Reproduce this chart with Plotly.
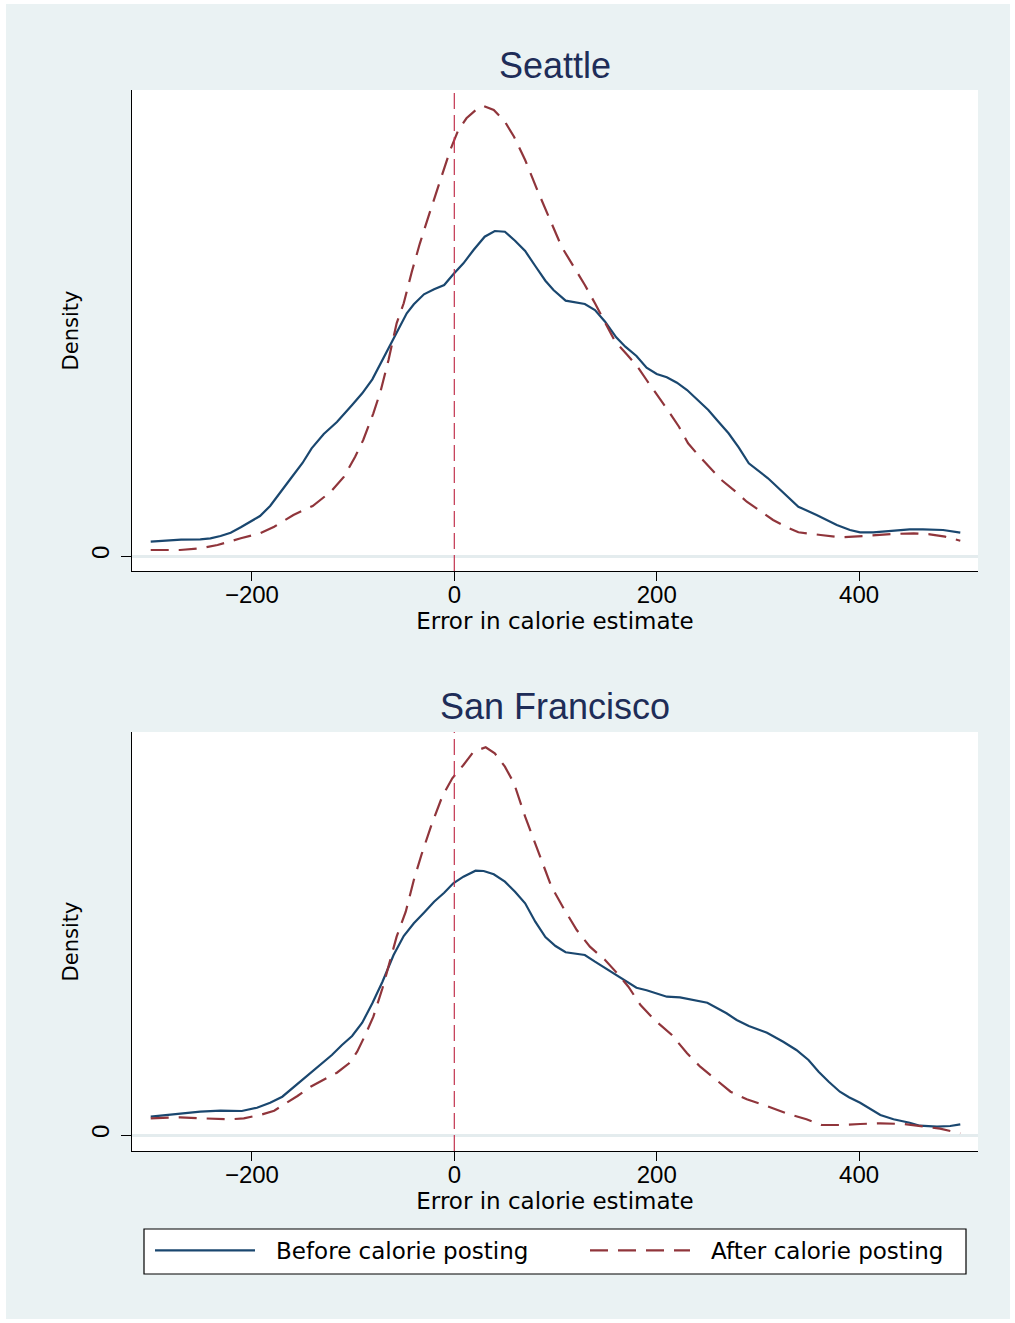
import plotly.graph_objects as go

# ---------------- data ----------------
# Seattle, before calorie posting
sea_before_x = [-300, -270, -251, -241, -231, -221, -211, -201, -192, -182, -172, -162, -150, -141,
                -129, -116, -101, -91, -81, -70, -57, -47, -40, -30, -20, -10, -1, 9, 19, 30, 40,
                50, 60, 70, 80, 90, 98, 110, 129, 139, 149, 160, 169, 180, 190, 200, 210, 220, 230,
                240, 251, 261, 271, 281, 291, 310, 325, 340, 358, 378, 391, 401, 414, 434, 450,
                463, 483, 500]
sea_before_y = [0.000143, 0.000163, 0.000167, 0.000177, 0.000200, 0.000233, 0.000287, 0.000343,
                0.000400, 0.000500, 0.000630, 0.000770, 0.000930, 0.001077, 0.001220, 0.001340,
                0.001510, 0.001627, 0.001767, 0.001977, 0.002227, 0.002427, 0.002517, 0.002617,
                0.002667, 0.002710, 0.002817, 0.002927, 0.003060, 0.003193, 0.003250, 0.003243,
                0.003153, 0.003050, 0.002900, 0.002753, 0.002660, 0.002553, 0.002520, 0.002460,
                0.002343, 0.002187, 0.002093, 0.002000, 0.001883, 0.001820, 0.001787, 0.001733,
                0.001660, 0.001567, 0.001460, 0.001343, 0.001227, 0.001087, 0.000927, 0.000777,
                0.000633, 0.000493, 0.000410, 0.000310, 0.000260, 0.000237, 0.000237, 0.000250,
                0.000267, 0.000267, 0.000260, 0.000233]

# Seattle, after calorie posting
sea_after_x = [-300, -271, -251, -234, -211, -192, -178, -159, -140, -122, -109, -98, -90, -80,
               -73, -65, -57, -50, -42, -34, -24, -14, -4, 4, 12, 22, 29, 39, 50, 59, 70, 82, 95,
               106, 118, 129, 139, 149, 159, 171, 181, 190, 202, 212, 222, 231, 241, 253, 264,
               278, 289, 302, 315, 329, 340, 362, 381, 394, 414, 434, 454, 470, 485, 500]
sea_after_y = [0.000060, 0.000060, 0.000077, 0.000110, 0.000177, 0.000227, 0.000293, 0.000410,
               0.000500, 0.000643, 0.000793, 0.000993, 0.001160, 0.001427, 0.001643, 0.001960,
               0.002327, 0.002527, 0.002843, 0.003127, 0.003443, 0.003760, 0.004060, 0.004260,
               0.004377, 0.004467, 0.004500, 0.004460, 0.004343, 0.004193, 0.003960, 0.003660,
               0.003360, 0.003093, 0.002893, 0.002710, 0.002527, 0.002327, 0.002143, 0.002010,
               0.001893, 0.001760, 0.001593, 0.001443, 0.001293, 0.001127, 0.001010, 0.000877,
               0.000760, 0.000643, 0.000543, 0.000453, 0.000360, 0.000287, 0.000237, 0.000210,
               0.000187, 0.000193, 0.000210, 0.000220, 0.000227, 0.000217, 0.000193, 0.000153]

# San Francisco, before calorie posting
sf_before_x = [-300, -271, -251, -231, -210, -195, -182, -170, -160, -150, -140, -131, -121, -111,
               -101, -91, -81, -71, -60, -50, -40, -30, -20, -10, -1, 9, 21, 29, 39, 50, 60, 70,
               80, 90, 100, 110, 129, 139, 151, 164, 180, 190, 210, 223, 250, 269, 279, 291, 309,
               325, 338, 350, 360, 370, 381, 390, 401, 421, 434, 450, 460, 477, 490, 500]
sf_before_y = [0.000183, 0.000210, 0.000233, 0.000243, 0.000240, 0.000273, 0.000323, 0.000383,
               0.000467, 0.000557, 0.000640, 0.000717, 0.000800, 0.000900, 0.000990, 0.001123,
               0.001317, 0.001533, 0.001800, 0.001990, 0.002117, 0.002223, 0.002333, 0.002423,
               0.002517, 0.002583, 0.002643, 0.002640, 0.002607, 0.002533, 0.002433, 0.002317,
               0.002133, 0.001980, 0.001890, 0.001827, 0.001800, 0.001733, 0.001657, 0.001577,
               0.001473, 0.001447, 0.001383, 0.001377, 0.001323, 0.001217, 0.001150, 0.001090,
               0.001023, 0.000933, 0.000850, 0.000750, 0.000633, 0.000533, 0.000433, 0.000377,
               0.000323, 0.000200, 0.000157, 0.000123, 0.000093, 0.000083, 0.000090, 0.000107]

# San Francisco, after calorie posting
sf_after_x = [-300, -271, -251, -221, -208, -192, -178, -165, -155, -142, -129, -116, -104, -96,
              -88, -80, -71, -63, -57, -48, -40, -32, -22, -12, -2, 9, 19, 31, 40, 50, 59, 70,
              85, 96, 108, 121, 134, 149, 161, 172, 184, 198, 215, 230, 243, 258, 273, 289, 309,
              328, 348, 363, 381, 401, 421, 444, 463, 480, 500]
sf_after_y = [0.000167, 0.000177, 0.000167, 0.000157, 0.000167, 0.000200, 0.000243, 0.000323,
              0.000390, 0.000483, 0.000550, 0.000623, 0.000717, 0.000833, 0.001000, 0.001183,
              0.001467, 0.001750, 0.001983, 0.002233, 0.002550, 0.002817, 0.003117, 0.003383,
              0.003567, 0.003700, 0.003833, 0.003877, 0.003817, 0.003683, 0.003517, 0.003183,
              0.002783, 0.002483, 0.002267, 0.002050, 0.001883, 0.001750, 0.001617, 0.001483,
              0.001300, 0.001150, 0.001000, 0.000817, 0.000683, 0.000557, 0.000433, 0.000357,
              0.000290, 0.000217, 0.000157, 0.000100, 0.000100, 0.000110, 0.000117, 0.000110,
              0.000083, 0.000063, 0.000017]

x_ticks = [-200, 0, 200, 400]
y_ticks = [0]
x_range = [-318.5, 517.5]
sea_y_range = [-0.00015, 0.00466]
sf_y_range = [-0.00016, 0.00403]
panel_titles = ["Seattle", "San Francisco"]
legend_names = ["Before calorie posting", "After calorie posting"]
x_title = "Error in calorie estimate"
y_title = "Density"

# ---------------- styling ----------------
W, H = 1015, 1323
ML, MR, MT, MB = 132, 37, 90, 172
PW, PH = W - ML - MR, H - MT - MB
BG = "#eaf2f3"
BLUE = "#1a476f"
RED = "#90353b"
VLINE = "#c2334f"
TITLE_C = "#1e2d58"
ARIAL = "Liberation Sans, Arial, sans-serif"
WIDE = "DejaVu Sans, sans-serif"
GAP = "\u2002\u2009"   # small gap between legend key and label


def px_x(p):
    return (p - ML) / PW


def px_y(q):
    return (H - MB - q) / PH


fig = go.Figure()

series = [
    (sea_before_x, sea_before_y, "x", "y", BLUE, "solid", legend_names[0], True),
    (sea_after_x, sea_after_y, "x", "y", RED, "18px,10px", legend_names[1], True),
    (sf_before_x, sf_before_y, "x2", "y2", BLUE, "solid", legend_names[0], False),
    (sf_after_x, sf_after_y, "x2", "y2", RED, "18px,10px", legend_names[1], False),
]
for i, (xs, ys, xa, ya, col, dash, name, show) in enumerate(series):
    tr = go.Scatter(
        x=xs, y=ys, xaxis=xa, yaxis=ya, mode="lines", name=GAP + name,
        legendgroup=name, showlegend=show,
        line=dict(color=col, width=2.2, dash=dash),
        hoverinfo="skip")
    if i == 0:
        tr.legendwidth = 320
    fig.add_trace(tr)

common_x = dict(
    range=x_range, tickvals=x_ticks, ticks="outside", ticklen=9, tickwidth=1.3,
    tickcolor="black", showline=True, linecolor="black", linewidth=1.3,
    showgrid=False, zeroline=False, ticklabelstandoff=-7,
    tickfont=dict(family=ARIAL, size=24, color="black"),
    title=dict(text=x_title, font=dict(family=WIDE, size=23, color="black"), standoff=4),
)
common_y = dict(
    tickvals=y_ticks, ticktext=["0"], tickangle=-90, ticks="outside", ticklen=10,
    tickwidth=1.3, tickcolor="black", showline=True, linecolor="black", linewidth=1.3,
    showgrid=True, gridcolor="#e4ecee", gridwidth=2.5, zeroline=False,
    ticklabelstandoff=2,
    tickfont=dict(family=ARIAL, size=24, color="black"),
    title=dict(text=y_title, font=dict(family=WIDE, size=21, color="black"), standoff=2),
)

d1 = [px_y(571), 1.0]
d2 = [0.0, px_y(732)]

fig.update_layout(
    width=W, height=H,
    margin=dict(l=ML, r=MR, t=MT, b=MB, autoexpand=False),
    paper_bgcolor=BG, plot_bgcolor="white",
    xaxis=dict(common_x, domain=[0, 1], anchor="y"),
    yaxis=dict(common_y, domain=d1, range=sea_y_range, anchor="x"),
    xaxis2=dict(common_x, domain=[0, 1], anchor="y2"),
    yaxis2=dict(common_y, domain=d2, range=sf_y_range, anchor="x2"),
    showlegend=True,
    legend=dict(
        orientation="h", x=px_x(150), y=px_y(1229), xanchor="left", yanchor="top",
        bgcolor="rgba(0,0,0,0)", borderwidth=0, itemwidth=100,
        font=dict(family=WIDE, size=23, color="black"), itemclick=False,
        itemdoubleclick=False,
    ),
)

# subplot titles
for title, q in zip(panel_titles, [65, 706]):
    fig.add_annotation(text=title, xref="paper", yref="paper", x=0.5, y=px_y(q),
                       xanchor="center", yanchor="middle", showarrow=False,
                       font=dict(family=ARIAL, size=36, color=TITLE_C))

shapes = []
# vertical reference lines at zero
for xr, yr in [("x", "y domain"), ("x2", "y2 domain")]:
    shapes.append(dict(type="line", xref=xr, yref=yr, x0=0, x1=0, y0=0, y1=1,
                       line=dict(color=VLINE, width=1.2, dash="16px,6px"), layer="above"))
# legend frame
shapes.append(dict(type="rect", xref="paper", yref="paper",
                   x0=px_x(144), x1=px_x(966), y0=px_y(1274), y1=px_y(1229),
                   line=dict(color="black", width=1.2), fillcolor="white", layer="below"))
# thin white outer border
for (a, b, c, d) in [(0, 6, 0, H), (1010, W, 0, H), (0, W, 0, 4), (0, W, 1319, H)]:
    shapes.append(dict(type="rect", xref="paper", yref="paper",
                       x0=px_x(a), x1=px_x(b), y0=px_y(d), y1=px_y(c),
                       line=dict(width=0), fillcolor="white", layer="above"))
fig.update_layout(shapes=shapes)

fig.write_html("out.html", config={"displayModeBar": False},
               post_script="document.body.style.margin='0px';")
